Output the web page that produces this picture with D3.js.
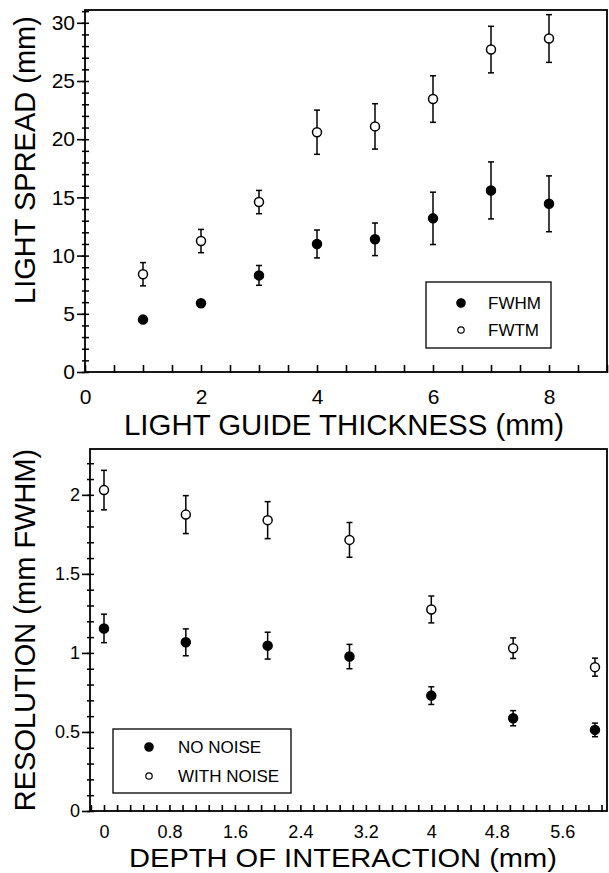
<!DOCTYPE html>
<html>
<head>
<meta charset="utf-8">
<script src="https://cdn.jsdelivr.net/npm/d3@7"></script>
<style>
  body { margin: 0; background: #fff; }
  svg text { font-family: "Liberation Sans", Arial, sans-serif; fill: #000; }
</style>
</head>
<body>
<div id="chart"></div>
<script>
// Top panel: light spread vs light guide thickness
const thickness = [1, 2, 3, 4, 5, 6, 7, 8];
const fwhm = [4.5, 5.9, 8.3, 11.0, 11.4, 13.2, 15.6, 14.45];
const fwhmErr = [0, 0.3, 0.85, 1.2, 1.4, 2.25, 2.45, 2.4];
const fwtm = [8.4, 11.25, 14.6, 20.6, 21.1, 23.45, 27.7, 28.65];
const fwtmErr = [1.0, 1.0, 1.0, 1.9, 1.95, 2.0, 2.0, 2.05];
const thicknessTicks = [0, 2, 4, 6, 8];
const spreadTicks = [0, 5, 10, 15, 20, 25, 30];

// Bottom panel: resolution vs depth of interaction
const depth = [0, 1, 2, 3, 4, 5, 6];
const noNoise = [1.155, 1.067, 1.046, 0.977, 0.73, 0.587, 0.513];
const noNoiseErr = [0.09, 0.085, 0.085, 0.077, 0.056, 0.048, 0.043];
const withNoise = [2.03, 1.875, 1.84, 1.715, 1.275, 1.03, 0.91];
const withNoiseErr = [0.125, 0.12, 0.117, 0.11, 0.085, 0.065, 0.057];
const depthTicks = [0, 0.8, 1.6, 2.4, 3.2, 4, 4.8, 5.6];
const resTicks = [0, 0.5, 1, 1.5, 2];

const W = 609, H = 873;
const svg = d3.select("#chart").append("svg")
  .attr("width", W)
  .attr("height", H);

function drawPanel(p) {
  const g = svg.append("g");
  const x = p.x, y = p.y;
  const [x0, x1] = x.range();
  const [y0, y1] = y.range();

  // frame
  g.append("rect")
    .attr("x", x0).attr("y", y1)
    .attr("width", x1 - x0).attr("height", y0 - y1)
    .attr("fill", "none").attr("stroke", "#000").attr("stroke-width", 1.8);

  // major y ticks + labels (outside)
  const ya = g.append("g")
    .attr("transform", `translate(${x0},0)`)
    .call(d3.axisLeft(y).tickValues(p.yTicks).tickSize(8).tickPadding(2).tickFormat(p.yFmt));
  ya.select(".domain").remove();
  ya.selectAll("line").attr("stroke-width", 1.6);
  ya.selectAll("text").style("font-size", p.yFont + "px");

  // minor y ticks (crossing the axis)
  const ym = g.append("g")
    .attr("transform", `translate(${x0},0)`)
    .call(d3.axisRight(y).tickValues(p.yMinor).tickSize(4).tickFormat(""));
  ym.select(".domain").remove();
  ym.selectAll("line").attr("x1", -3).attr("stroke-width", 1.5);

  // x labels
  const xa = g.append("g")
    .attr("transform", `translate(0,${y0})`)
    .call(d3.axisBottom(x).tickValues(p.xTicks).tickSize(0).tickPadding(p.xPad).tickFormat(p.xFmt));
  xa.select(".domain").remove();
  xa.selectAll("text").style("font-size", p.xFont + "px");

  // x ticks (inside, slightly crossing)
  const xm = g.append("g")
    .attr("transform", `translate(0,${y0})`)
    .call(d3.axisTop(x).tickValues(p.xMinor).tickSize(p.xTickLen).tickFormat(""));
  xm.select(".domain").remove();
  xm.selectAll("line").attr("y1", 1).attr("stroke-width", 1.6);

  // axis titles
  g.append("text")
    .attr("x", p.xTitlePos[0]).attr("y", p.xTitlePos[1])
    .attr("text-anchor", "middle")
    .attr("textLength", p.xTitleLen)
    .attr("lengthAdjust", "spacingAndGlyphs")
    .style("font-size", p.xTitleFont + "px")
    .text(p.xTitle);
  g.append("text")
    .attr("transform", `translate(${p.yTitlePos[0]},${p.yTitlePos[1]}) rotate(-90)`)
    .attr("text-anchor", "middle")
    .style("font-size", p.titleFont + "px")
    .text(p.yTitle);

  // series
  p.series.forEach(s => {
    const pts = p.xs.map((xv, i) => ({ x: xv, v: s.values[i], e: s.err[i] }));
    const eb = g.append("g").attr("stroke", "#000").attr("stroke-width", 1.5);
    pts.filter(d => d.e > 0).forEach(d => {
      const cx = x(d.x);
      eb.append("line").attr("x1", cx).attr("x2", cx).attr("y1", y(d.v - d.e)).attr("y2", y(d.v + d.e));
      eb.append("line").attr("x1", cx - 3).attr("x2", cx + 3).attr("y1", y(d.v - d.e)).attr("y2", y(d.v - d.e));
      eb.append("line").attr("x1", cx - 3).attr("x2", cx + 3).attr("y1", y(d.v + d.e)).attr("y2", y(d.v + d.e));
    });
    g.selectAll(null)
      .data(pts)
      .enter()
      .append("circle")
      .attr("cx", d => x(d.x))
      .attr("cy", d => y(d.v))
      .attr("r", 4.5)
      .attr("fill", s.filled ? "#000" : "#fff")
      .attr("stroke", "#000")
      .attr("stroke-width", 1.5);
  });

  // legend
  const lg = g.append("g");
  const L = p.legend;
  lg.append("rect")
    .attr("x", L.x).attr("y", L.y).attr("width", L.w).attr("height", L.h)
    .attr("fill", "#fff").attr("stroke", "#000").attr("stroke-width", 1.3);
  p.series.forEach((s, i) => {
    const cy = L.y + L.rowY[i];
    lg.append("circle")
      .attr("cx", L.x + L.mx).attr("cy", cy)
      .attr("r", s.filled ? 4.2 : 3.2)
      .attr("fill", s.filled ? "#000" : "#fff")
      .attr("stroke", "#000").attr("stroke-width", 1.2);
    lg.append("text")
      .attr("x", L.x + L.tx).attr("y", cy)
      .attr("dy", "0.36em")
      .style("font-size", L.font + "px")
      .text(s.name);
  });
}

drawPanel({
  x: d3.scaleLinear().domain([0, 9]).range([85, 607]),
  y: d3.scaleLinear().domain([0, 31.1]).range([372, 10]),
  xs: thickness,
  xTicks: thicknessTicks,
  xMinor: d3.range(0, 19).map(i => i * 0.5),
  xTickLen: 7,
  xPad: 17,
  xFmt: d => d,
  xFont: 21,
  yTicks: spreadTicks,
  yMinor: d3.range(0, 32),
  yFmt: d => d,
  yFont: 21,
  titleFont: 29,
  xTitleFont: 29,
  xTitleLen: 440,
  xTitle: "LIGHT GUIDE THICKNESS (mm)",
  xTitlePos: [344, 435],
  yTitle: "LIGHT SPREAD (mm)",
  yTitlePos: [35, 160],
  series: [
    { name: "FWHM", values: fwhm, err: fwhmErr, filled: true },
    { name: "FWTM", values: fwtm, err: fwtmErr, filled: false }
  ],
  legend: { x: 426, y: 282, w: 125, h: 66, rowY: [21, 48], mx: 35, tx: 62, font: 17 }
});

drawPanel({
  x: d3.scaleLinear().domain([-0.171, 6.147]).range([90, 607]),
  y: d3.scaleLinear().domain([0, 2.29]).range([811, 449]),
  xs: depth,
  xTicks: depthTicks,
  xMinor: d3.range(-1, 39).map(i => i * 0.16),
  xTickLen: 6,
  xPad: 14,
  xFmt: d => String(+d.toFixed(1)),
  xFont: 18,
  yTicks: resTicks,
  yMinor: d3.range(0, 23).map(i => i * 0.1),
  yFmt: d => String(d),
  yFont: 18,
  titleFont: 29,
  xTitleFont: 26,
  xTitleLen: 428,
  xTitle: "DEPTH OF INTERACTION (mm)",
  xTitlePos: [343, 867],
  yTitle: "RESOLUTION (mm FWHM)",
  yTitlePos: [35, 630],
  series: [
    { name: "NO NOISE", values: noNoise, err: noNoiseErr, filled: true },
    { name: "WITH NOISE", values: withNoise, err: withNoiseErr, filled: false }
  ],
  legend: { x: 113, y: 729, w: 178, h: 64, rowY: [18, 47], mx: 36, tx: 65, font: 17 }
});
</script>
</body>
</html>
